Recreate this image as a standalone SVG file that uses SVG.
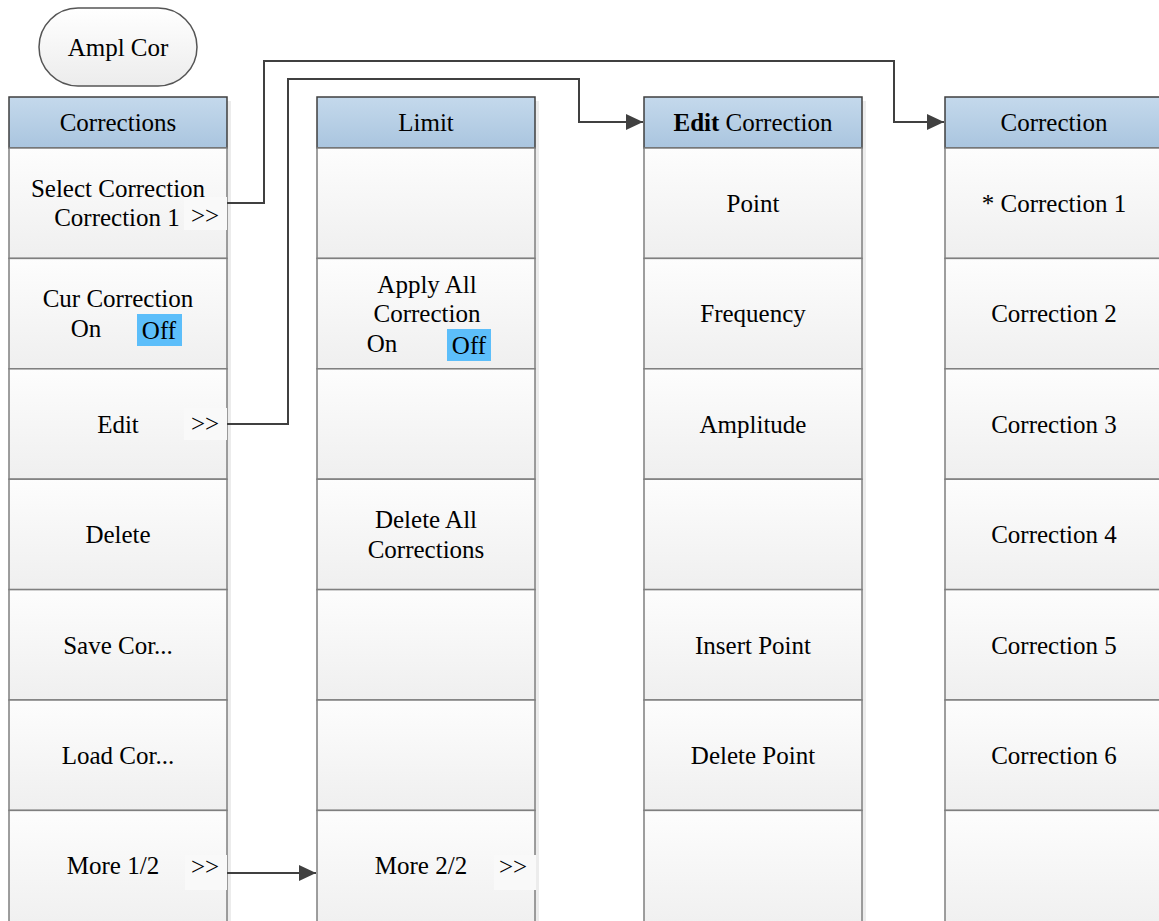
<svg xmlns="http://www.w3.org/2000/svg" width="1159" height="921" viewBox="0 0 1159 921">
<style>
.t{font-family:'Liberation Serif','DejaVu Serif',serif;font-size:25px;fill:#000;text-anchor:middle}
.hd{fill:url(#gh);stroke:#3f3f3f;stroke-width:1.5}
.cl{fill:url(#gc);stroke:#7f7f7f;stroke-width:1.5}
.sh{fill:#ececec}
.ar{fill:#f9f9f9}
.off{fill:#5cbefa}
.cn{fill:none;stroke:#404040;stroke-width:2}
</style>
<defs>
<linearGradient id="gh" x1="0" y1="0" x2="0" y2="1"><stop offset="0" stop-color="#c4d9ec"/><stop offset="1" stop-color="#aac5df"/></linearGradient>
<linearGradient id="gc" x1="0" y1="0" x2="0" y2="1"><stop offset="0" stop-color="#fdfdfd"/><stop offset="1" stop-color="#efefef"/></linearGradient>
<linearGradient id="gp" x1="0" y1="0" x2="0" y2="1"><stop offset="0" stop-color="#ffffff"/><stop offset="1" stop-color="#ececec"/></linearGradient>
<marker id="ah" markerUnits="userSpaceOnUse" markerWidth="18" markerHeight="16" refX="17" refY="8" orient="auto"><path d="M0,0 L17,8 L0,16 z" fill="#404040"/></marker>
</defs>

<g id="ampl-cor">
<rect x="39" y="8" width="158" height="78" rx="39" ry="39" fill="url(#gp)" stroke="#555" stroke-width="1.5"/>
<text class="t" x="118" y="56">Ampl Cor</text>
</g>

<g id="col-corrections">
<rect class="sh" x="13" y="101" width="218" height="830"/>
<rect class="hd" x="9" y="97" width="218" height="51"/>
<text class="t" x="118" y="131">Corrections</text>
<rect class="cl" x="9" y="148" width="218" height="110.4"/>
<rect class="cl" x="9" y="258.4" width="218" height="110.4"/>
<rect class="cl" x="9" y="368.8" width="218" height="110.4"/>
<rect class="cl" x="9" y="479.2" width="218" height="110.4"/>
<rect class="cl" x="9" y="589.6" width="218" height="110.4"/>
<rect class="cl" x="9" y="700" width="218" height="110.4"/>
<rect class="cl" x="9" y="810.4" width="218" height="120"/>
<rect class="ar" x="184" y="197" width="43" height="33"/>
<text class="t" x="118" y="197">Select Correction</text>
<text class="t" x="117" y="226">Correction 1</text>
<text class="t" x="205" y="224">&gt;&gt;</text>
<text class="t" x="118" y="307">Cur Correction</text>
<text class="t" x="86" y="337">On</text>
<rect class="off" x="137" y="314" width="45" height="32"/>
<text class="t" x="159" y="339">Off</text>
<rect class="ar" x="184" y="408" width="43" height="32"/>
<text class="t" x="118" y="433">Edit</text>
<text class="t" x="205" y="432">&gt;&gt;</text>
<text class="t" x="118" y="543">Delete</text>
<text class="t" x="118" y="654">Save Cor...</text>
<text class="t" x="118" y="764">Load Cor...</text>
<rect class="ar" x="185" y="855" width="42" height="35"/>
<text class="t" x="113" y="874">More 1/2</text>
<text class="t" x="205" y="875">&gt;&gt;</text>
</g>

<g id="col-limit">
<rect class="sh" x="321" y="101" width="218" height="830"/>
<rect class="hd" x="317" y="97" width="218" height="51"/>
<text class="t" x="426" y="131">Limit</text>
<rect class="cl" x="317" y="148" width="218" height="110.4"/>
<rect class="cl" x="317" y="258.4" width="218" height="110.4"/>
<rect class="cl" x="317" y="368.8" width="218" height="110.4"/>
<rect class="cl" x="317" y="479.2" width="218" height="110.4"/>
<rect class="cl" x="317" y="589.6" width="218" height="110.4"/>
<rect class="cl" x="317" y="700" width="218" height="110.4"/>
<rect class="cl" x="317" y="810.4" width="218" height="120"/>
<text class="t" x="427" y="293">Apply All</text>
<text class="t" x="427" y="322">Correction</text>
<text class="t" x="382" y="352">On</text>
<rect class="off" x="447" y="329" width="44" height="32"/>
<text class="t" x="469" y="354">Off</text>
<text class="t" x="426" y="528">Delete All</text>
<text class="t" x="426" y="558">Corrections</text>
<rect class="ar" x="494" y="855" width="42" height="35"/>
<text class="t" x="421" y="874">More 2/2</text>
<text class="t" x="513" y="875">&gt;&gt;</text>
</g>

<g id="col-edit-correction">
<rect class="sh" x="648" y="101" width="218" height="830"/>
<rect class="hd" x="644" y="97" width="218" height="51"/>
<text class="t" x="753" y="131"><tspan font-weight="bold">Edit</tspan> Correction</text>
<rect class="cl" x="644" y="148" width="218" height="110.4"/>
<rect class="cl" x="644" y="258.4" width="218" height="110.4"/>
<rect class="cl" x="644" y="368.8" width="218" height="110.4"/>
<rect class="cl" x="644" y="479.2" width="218" height="110.4"/>
<rect class="cl" x="644" y="589.6" width="218" height="110.4"/>
<rect class="cl" x="644" y="700" width="218" height="110.4"/>
<rect class="cl" x="644" y="810.4" width="218" height="120"/>
<text class="t" x="753" y="212">Point</text>
<text class="t" x="753" y="322">Frequency</text>
<text class="t" x="753" y="433">Amplitude</text>
<text class="t" x="753" y="654">Insert Point</text>
<text class="t" x="753" y="764">Delete Point</text>
</g>

<g id="col-correction">
<rect class="hd" x="945" y="97" width="218" height="51"/>
<text class="t" x="1054" y="131">Correction</text>
<rect class="cl" x="945" y="148" width="218" height="110.4"/>
<rect class="cl" x="945" y="258.4" width="218" height="110.4"/>
<rect class="cl" x="945" y="368.8" width="218" height="110.4"/>
<rect class="cl" x="945" y="479.2" width="218" height="110.4"/>
<rect class="cl" x="945" y="589.6" width="218" height="110.4"/>
<rect class="cl" x="945" y="700" width="218" height="110.4"/>
<rect class="cl" x="945" y="810.4" width="218" height="120"/>
<text class="t" x="1054" y="212">* Correction 1</text>
<text class="t" x="1054" y="322">Correction 2</text>
<text class="t" x="1054" y="433">Correction 3</text>
<text class="t" x="1054" y="543">Correction 4</text>
<text class="t" x="1054" y="654">Correction 5</text>
<text class="t" x="1054" y="764">Correction 6</text>
</g>

<g id="connectors">
<path class="cn" d="M227,203 H264 V61 H894 V122 H944" marker-end="url(#ah)"/>
<path class="cn" d="M227,424 H288 V79 H579 V122 H643" marker-end="url(#ah)"/>
<path class="cn" d="M227,873 H316" marker-end="url(#ah)"/>
</g>
</svg>
